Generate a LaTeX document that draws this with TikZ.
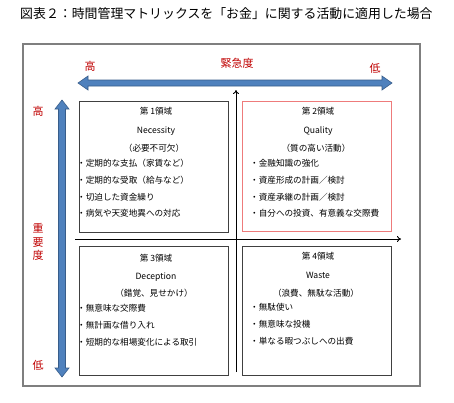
\documentclass[tikz,border=0pt]{standalone}
\usepackage{fontspec}
\setmainfont{Noto Sans CJK JP}
\usetikzlibrary{arrows.meta}
\definecolor{labelred}{HTML}{C00000}
\definecolor{arrowblue}{HTML}{4F81BD}
\definecolor{arrowedge}{HTML}{385D8A}
\definecolor{framegray}{HTML}{7F7F7F}
\definecolor{boxred}{HTML}{EE7B7B}
\tikzset{
  quad/.style={draw=black!75,line width=0.9pt,inner sep=0pt},
  headtext/.style={font=\fontsize{8.6}{10}\selectfont,inner sep=0pt},
  itemtext/.style={font=\fontsize{8.6}{16.8}\selectfont,align=left,anchor=north west,inner sep=0pt},
  redlabel/.style={text=labelred,font=\fontsize{11}{13.5}\selectfont,inner sep=0pt}
}

\begin{document}
\begin{tikzpicture}[x=1pt,y=-1pt]
\useasboundingbox (0,0) rectangle (454,402);
\fill[white] (0,0) rectangle (454,402);

\node[anchor=west,inner sep=0pt,font=\fontsize{12.9}{15}\selectfont] (title) at (20,14) {図表２：時間管理マトリックスを「お金」に関する活動に適用した場合};

% frame
\draw[framegray,line width=1.6pt] (23,44) rectangle (420,386);

% blue arrows
\filldraw[fill=arrowblue,draw=arrowedge,line width=0.6pt]
  (78,83) -- (88,76) -- (88,80) -- (382,80) -- (382,76) -- (392,83)
  -- (382,90) -- (382,86) -- (88,86) -- (88,90) -- cycle;
\filldraw[fill=arrowblue,draw=arrowedge,line width=0.6pt]
  (62,100) -- (69,109) -- (65.5,109) -- (65.5,368) -- (69,368) -- (62,377)
  -- (55,368) -- (58.5,368) -- (58.5,109) -- (55,109) -- cycle;

\node[redlabel] (hi1) at (90,66) {高};
\node[redlabel] (urg) at (237,63) {緊急度};
\node[redlabel] (lo1) at (375,68) {低};
\node[redlabel] (hi2) at (38,111) {高};
\node[redlabel,align=center] (imp) at (38,242) {重\\要\\度};
\node[redlabel] (lo2) at (38,365) {低};

% axes
\coordinate (vbot) at (236,372);
\coordinate (vtop) at (236,90);
\coordinate (hleft) at (75,239);
\coordinate (hright) at (401,239);
\draw[line width=0.9pt,-{To[length=4pt,width=6pt]}] (vbot) -- (vtop);
\draw[line width=0.9pt,-{To[length=4pt,width=6pt]}] (hleft) -- (hright);

% quadrants
\node[quad,minimum width=149,minimum height=131] (q1) at (153.5,166.5) {};
\node[quad,draw=boxred,minimum width=149,minimum height=130] (q2) at (316.5,166) {};
\node[quad,minimum width=149,minimum height=129] (q3) at (153.5,310.5) {};
\node[quad,minimum width=149,minimum height=129] (q4) at (316.5,310.5) {};

\node[headtext] (q1a) at (156,111) {第 1領域};
\node[headtext] (q1b) at (156,131) {Necessity};
\node[headtext] (q1c) at (154,148) {（必要不可欠）};
\node[itemtext] (q1d) at (77,159) {・定期的な支払（家賃など）\\・定期的な受取（給与など）\\・切迫した資金繰り\\・病気や天変地異への対応};

\node[headtext] (q2a) at (318,111) {第 2領域};
\node[headtext] (q2b) at (318,131) {Quality};
\node[headtext] (q2c) at (316,148) {（質の高い活動）};
\node[itemtext] (q2d) at (250,159) {・金融知識の強化\\・資産形成の計画／検討\\・資産承継の計画／検討\\・自分への投資、有意義な交際費};

\node[headtext] (q3a) at (156,258) {第 3領域};
\node[headtext] (q3b) at (156,277) {Deception};
\node[headtext] (q3c) at (154,293) {（錯覚、見せかけ）};
\node[itemtext] (q3d) at (77,304) {・無意味な交際費\\・無計画な借り入れ\\・短期的な相場変化による取引};

\node[headtext] (q4a) at (318,256) {第 4領域};
\node[headtext] (q4b) at (318,275) {Waste};
\node[headtext] (q4c) at (316,293) {（浪費、無駄な活動）};
\node[itemtext] (q4d) at (250,303) {・無駄使い\\・無意味な投機\\・単なる暇つぶしへの出費};
\end{tikzpicture}
\end{document}
